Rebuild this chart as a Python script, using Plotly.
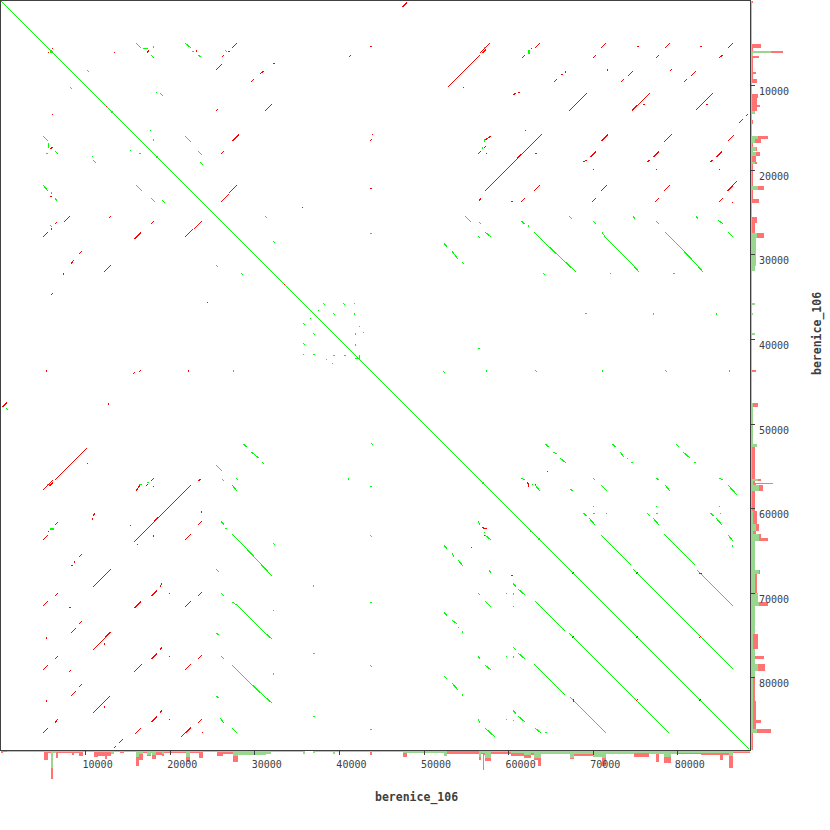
import plotly.graph_objects as go

# One window of the comparison in base pairs; match ends below are window numbers
WINDOW_BP = 118.2
WINDOWS = 749
AXIS_MAX = WINDOW_BP * WINDOWS
TICKS = [10000, 20000, 30000, 40000, 50000, 60000, 70000, 80000]
TICK_LABELS = [str(t) for t in TICKS]
SEQ_NAME = "berenice_106"

# Self-comparison: matches of the upper triangle are mirrored over the diagonal
FORWARD_MATCHES = [  # (x0, y0, x1, y1)
    (136,43,141,48),(143,48,148,49),(153,46,153,48),(151,55,154,58),(185,43,191,48),(192,51,194,51),
    (198,55,201,57),(225,50,227,52),(87,70,89,72),(156,92,157,93),(160,93,163,96),(150,130,151,131),
    (153,139,153,141),(185,136,191,142),(198,151,202,155),(200,162,203,165),(265,216,267,218),
    (273,241,275,243),(370,233,372,233),(323,303,325,305),(343,303,345,305),(354,303,354,304),
    (318,310,319,311),(333,313,335,315),(354,313,354,315),(359,326,360,327),(355,333,356,335),
    (363,332,364,333),(355,344,356,346),(484,47,484,49),(528,50,529,54),(529,50,530,54),
    (484,139,484,142),(482,147,483,149),(465,216,471,222),(479,222,481,224),(478,236,480,238),
    (485,232,491,237),(444,243,447,247),(452,251,458,259),(462,262,464,264),(521,221,525,224),
    (528,225,528,227),(534,232,545,243),(545,243,576,272),(543,273,545,275),(569,216,572,219),(593,221,596,224),
    (602,232,605,237),(605,237,633,265),(633,265,639,272),(610,273,611,274),(633,216,635,219),(656,221,659,224),
    (665,232,680,247),(680,247,697,265),(697,265,703,272),
    (673,273,675,273),(696,216,698,219),(718,220,723,224),(728,232,733,237),(545,444,549,447),
    (553,452,557,454),(560,458,566,463),(612,444,616,447),(620,452,624,457),(627,458,628,459),
    (631,462,633,462),(676,444,679,447),(683,452,690,458),(694,462,696,462),(521,478,525,480),
    (532,484,533,485),(535,485,540,491),(570,489,573,491),(593,478,595,480),(601,485,607,491),
    (656,478,659,480),(665,485,670,491),(719,478,723,480),(728,485,737,495),(593,506,594,507),
    (593,513,595,513),(606,513,607,514),(583,513,587,516),(589,518,595,525),(656,506,657,507),
    (656,513,658,513),(647,513,650,516),(653,518,659,525),(719,506,720,507),(720,513,721,514),
    (710,513,714,516),(716,518,722,525),(601,535,631,565),(633,569,733,669),(664,534,695,565),
    (697,570,733,606),(728,535,733,541),(732,545,733,547),(585,313,587,313),(653,313,653,315),
    (716,313,717,315),(478,348,480,349),(443,371,445,373),(486,370,486,372),(535,370,537,372),
    (602,370,602,372),(665,370,667,372),(729,370,729,372),
]
REVERSE_MATCHES = [  # (x0, y0, x1, y1)
    (147,53,149,50),(52,48,53,49),(196,50,196,52),(228,52,230,51),(222,57,224,55),(232,48,237,43),
    (216,70,222,64),(273,64,275,63),(251,82,254,79),(260,74,264,71),(265,111,272,104),(216,111,218,109),
    (52,114,53,115),(232,141,239,134),(233,141,239,135),(221,154,224,151),(221,202,229,194),(229,193,237,185),
    (402,7,407,2),(403,7,407,3),(370,46,372,46),(372,134,373,135),(370,141,372,139),(370,189,372,188),
    (302,207,303,208),(448,87,480,55),(480,53,490,43),(482,53,486,49),(483,53,486,50),(463,87,463,88),(535,48,540,43),
    (531,48,532,49),(522,58,525,55),(601,48,606,43),(593,58,596,55),(637,46,639,46),(665,48,670,43),
    (656,58,659,55),(700,46,702,46),(728,48,733,43),(719,58,723,55),(554,82,557,79),(561,75,563,74),
    (565,71,565,73),(513,95,516,93),(518,92,520,92),(607,69,607,71),(621,82,624,79),(628,76,633,71),
    (670,71,672,69),(684,82,687,79),(691,76,696,71),(569,111,587,93),(632,111,650,93),(632,110,637,105),
    (643,105,645,104),(696,110,713,93),(706,105,708,104),(739,123,743,119),(746,116,748,114),
    (485,140,491,136),(484,148,486,146),(478,154,481,151),(486,153,486,154),(525,130,526,131),
    (485,191,542,134),(517,158,521,154),(535,153,537,153),(601,141,608,134),(602,141,608,135),
    (583,162,587,160),(590,157,596,151),(591,157,596,152),(593,169,594,170),(664,142,672,134),
    (653,157,659,151),(654,157,659,152),(647,162,650,160),(656,169,657,170),(728,141,734,135),
    (716,157,722,151),(717,157,722,152),(710,162,713,160),(719,169,720,170),(534,191,540,185),
    (521,202,525,198),(511,202,513,201),(479,201,481,198),(601,191,607,185),(592,202,596,198),
    (664,191,670,185),(655,202,659,198),(727,191,737,181),(728,191,733,186),(719,202,723,198),
    (732,202,733,203),(527,482,529,484),(527,483,529,485),(528,484,528,487),(535,484,536,485),
    (547,471,548,472),
]
SELF_DIAGONAL = [(1, 1, 749, 749)]
DIAGONAL_FORWARD_SPOTS = [
    (50,52,53,52),(50,51,53,53),(51,50,53,53),(111,112,113,112),(112,111,112,113),(156,157,158,157),
    (157,156,157,158),(482,483,484,483),(483,482,483,484),(530,531,532,531),(538,539,540,539),
    (539,538,539,540),(355,358,359,359),(359,355,359,359),
]
DIAGONAL_REVERSE_SPOTS = [
    (106,106,107,106),(284,284,285,285),(572,574,574,572),(636,638,638,636),(699,701,701,699),
    (699,638,701,636),(636,574,638,572),(699,574,702,573),
]
LOWER_ONLY_REVERSE = [(51,295,53,293),(108,403,108,405),(137,545,138,544),(511,576,513,575),(133,374,135,372)]
LOWER_ONLY_FORWARD = [(6,408,8,410),(47,484,50,484)]
UPPER_ONLY_REVERSE = [(349,57,351,55)]

# Coverage profile along the sequence: run end (window), forward depth, total depth
PROFILE_END = [2,6,43,47,50,52,55,57,71,73,78,82,93,97,104,106,110,113,119,123,135,138,142,146,150,151,155,161,163,
               185,189,198,202,216,222,232,237,265,270,302,304,312,314,332,334,369,371,402,406,443,446,478,480,482,
               483,484,490,510,523,530,533,537,540,569,573,592,601,605,633,648,655,658,663,670,677,700,719,722,728,
               732,749]
PROFILE_FORWARD = [1,1,2,2,2,18,3,2,2,2,2,2,2,2,2,2,2,4,2,2,2,7,4,2,5,3,5,2,4,
                   2,7,2,2,2,2,2,6,5,4,2,4,1,3,2,4,2,2,2,3,3,6,1,7,3,
                   3,3,8,2,3,5,3,8,8,4,8,4,7,8,4,3,4,4,4,7,4,3,3,3,3,
                   6,2]
PROFILE_TOTAL = [3,2,2,10,3,29,3,8,3,5,3,6,2,7,6,9,6,4,2,3,2,16,10,3,6,3,9,5,6,
                 3,12,3,8,2,6,4,12,5,4,2,4,1,3,2,4,2,5,2,7,3,6,4,10,4,
                 20,5,11,4,6,8,5,10,16,4,9,6,7,16,4,7,4,12,4,13,4,4,5,10,5,
                 18,3]

AXIS_COLOR = "#404040"
FONT = "DejaVu Sans Mono"


def to_bp(w):
    return (w - 1) * WINDOW_BP


def polyline(segments, mirror=False):
    xs, ys = [], []
    for x0, y0, x1, y1 in segments:
        xs += [to_bp(x0), to_bp(x1), None]
        ys += [to_bp(y0), to_bp(y1), None]
        if mirror:
            xs += [to_bp(y0), to_bp(y1), None]
            ys += [to_bp(x0), to_bp(x1), None]
    return xs, ys


starts = [0] + PROFILE_END[:-1]
centers = [to_bp(1 + (s + e) / 2) for s, e in zip(starts, PROFILE_END)]
widths = [(e - s) * WINDOW_BP for s, e in zip(starts, PROFILE_END)]

fig = go.Figure()
RED_BAR, GREEN_BAR = "#ff7373", "#99d68f"
for (series, colour) in ((PROFILE_TOTAL, RED_BAR), (PROFILE_FORWARD, GREEN_BAR)):
    fig.add_trace(go.Bar(x=centers, y=series, width=widths, marker=dict(color=colour, line_width=0),
                         xaxis="x", yaxis="y", showlegend=False))
for (series, colour) in ((PROFILE_TOTAL, RED_BAR), (PROFILE_FORWARD, GREEN_BAR)):
    fig.add_trace(go.Bar(y=centers, x=series, width=widths, orientation="h",
                         marker=dict(color=colour, line_width=0),
                         xaxis="x2", yaxis="y2", showlegend=False))


def add_lines(xy, colour):
    fig.add_trace(go.Scatter(x=xy[0], y=xy[1], mode="lines", line=dict(color=colour, width=1),
                             xaxis="x3", yaxis="y3", showlegend=False, hoverinfo="skip", connectgaps=False))


for seg, mirror, colour in (
    (FORWARD_MATCHES, True, "#00ff00"),
    (SELF_DIAGONAL + DIAGONAL_FORWARD_SPOTS, False, "#00ff00"),
    (LOWER_ONLY_FORWARD, False, "#00ff00"),
    (REVERSE_MATCHES, True, "#ff0000"),
    (DIAGONAL_REVERSE_SPOTS, True, "#ff0000"),
    (LOWER_ONLY_REVERSE + UPPER_ONLY_REVERSE, False, "#ff0000"),
):
    add_lines(polyline(seg, mirror), colour)

S = 830.0
L, R, T, B = 1 / S, 750 / S, 1 - 750 / S, 1 - 1 / S
hidden = dict(visible=False, fixedrange=True)
fig.update_layout(
    width=830, height=830, margin=dict(l=0, r=0, t=0, b=0), paper_bgcolor="white", plot_bgcolor="white",
    barmode="overlay", bargap=0, showlegend=False,
    xaxis=dict(domain=[L, R], range=[0, AXIS_MAX], anchor="y", **hidden),
    yaxis=dict(domain=[1 - 790 / S, T], range=[40, 0], anchor="x", **hidden),
    xaxis2=dict(domain=[R, 1 - 1e-4], range=[0, 70], anchor="y2", **hidden),
    yaxis2=dict(domain=[T, B], range=[AXIS_MAX, 0], anchor="x2", **hidden),
    xaxis3=dict(domain=[L, R], range=[0, AXIS_MAX], anchor="y3", side="bottom", showgrid=False, zeroline=False,
                showline=True, mirror=True, linecolor=AXIS_COLOR, linewidth=1, ticks="outside", ticklen=4,
                tickwidth=1, tickcolor=AXIS_COLOR, tickvals=TICKS, ticktext=TICK_LABELS, ticklabelshift=12,
                ticklabelstandoff=1, tickfont=dict(family=FONT, size=10, color=AXIS_COLOR)),
    yaxis3=dict(domain=[T, B], range=[AXIS_MAX, 0], anchor="x3", side="right", showgrid=False, zeroline=False,
                showline=True, mirror=True, linecolor=AXIS_COLOR, linewidth=1, ticks="outside", ticklen=4,
                tickwidth=1, tickcolor=AXIS_COLOR, tickvals=TICKS, ticktext=TICK_LABELS, ticklabelshift=-6,
                ticklabelstandoff=2, tickfont=dict(family=FONT, size=10, color=AXIS_COLOR)),
    annotations=[
        dict(text=f"<b>{SEQ_NAME}</b>", xref="paper", yref="paper", x=416 / S, y=1 - 797 / S, showarrow=False,
             xanchor="center", yanchor="middle", font=dict(family=FONT, size=11.5, color=AXIS_COLOR)),
        dict(text=f"<b>{SEQ_NAME}</b>", xref="paper", yref="paper", x=817 / S, y=1 - 334 / S, showarrow=False,
             textangle=-90, xanchor="center", yanchor="middle", font=dict(family=FONT, size=11.5, color=AXIS_COLOR)),
    ],
)

fig.write_html("out.html", config={"displayModeBar": False},
               post_script="document.body.style.margin='0';document.querySelectorAll('.js-line').forEach(function(e){e.style.shapeRendering='crispEdges';});")
